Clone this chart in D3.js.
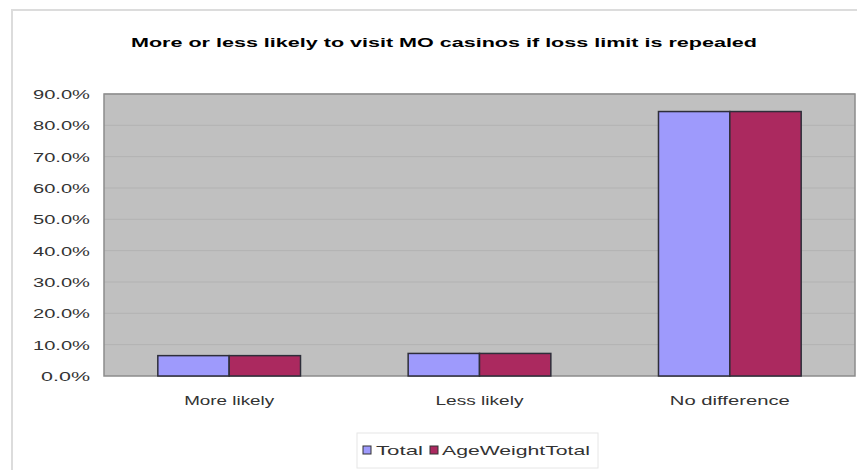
<!DOCTYPE html>
<html>
<head>
<meta charset="utf-8">
<script src="https://cdn.jsdelivr.net/npm/d3@7"></script>
<style>
body { margin: 0; background: #fff; }
text { font-family: Arial, "Liberation Sans", sans-serif; }
</style>
</head>
<body>
<svg width="857" height="470"></svg>
<script>
var categories = ["More likely", "Less likely", "No difference"];
var seriesNames = ["Total", "AgeWeightTotal"];
var total = [0.065, 0.072, 0.844];
var ageWeightTotal = [0.065, 0.072, 0.844];
var yTicks = [0, 0.1, 0.2, 0.3, 0.4, 0.5, 0.6, 0.7, 0.8, 0.9];
var colors = ["#9e9afc", "#ab295f"];

function init() {
    var svg = d3.select('svg');
    var left = 104, right = 855, top = 94, bottom = 376;

    // chart frame
    svg.append('rect')
        .attr('x', 12).attr('y', 10).attr('width', 900).attr('height', 500)
        .attr('fill', 'none').attr('stroke', '#dcdcdc').attr('stroke-width', 2);

    svg.append('text')
        .attr('x', 131).attr('y', 47)
        .attr('textLength', 626).attr('lengthAdjust', 'spacingAndGlyphs')
        .attr('font-size', 13).attr('font-weight', 'bold').attr('fill', '#000')
        .text('More or less likely to visit MO casinos if loss limit is repealed');

    var y = d3.scaleLinear().domain([0, 0.9]).range([bottom, top]);
    var x = d3.scaleBand().domain(categories).range([left, right])
        .paddingInner(0.43).paddingOuter(0.215);
    var xs = d3.scaleBand().domain(seriesNames).range([0, x.bandwidth()]);

    svg.append('rect')
        .attr('x', left).attr('y', top).attr('width', right - left).attr('height', bottom - top)
        .attr('fill', '#c0c0c0');

    svg.selectAll('.grid').data(yTicks.slice(1)).enter().append('line')
        .attr('class', 'grid')
        .attr('x1', left).attr('x2', right)
        .attr('y1', function (d) { return y(d); }).attr('y2', function (d) { return y(d); })
        .attr('stroke', '#b2b2b2').attr('stroke-width', 1);

    svg.append('rect')
        .attr('x', left).attr('y', top).attr('width', right - left).attr('height', bottom - top)
        .attr('fill', 'none').attr('stroke', '#8c8c8c').attr('stroke-width', 1.5);

    svg.selectAll('.ytick').data(yTicks).enter().append('text')
        .attr('class', 'ytick')
        .attr('x', 90).attr('y', function (d) { return y(d) + 5; })
        .attr('text-anchor', 'end')
        .attr('textLength', function (d) { return d === 0 ? 49 : 57; })
        .attr('lengthAdjust', 'spacingAndGlyphs')
        .attr('font-size', 13).attr('fill', '#333')
        .text(function (d) { return d3.format('.1%')(d); });

    var series = [total, ageWeightTotal];
    series.forEach(function (vals, s) {
        svg.selectAll('.bar' + s).data(vals).enter().append('rect')
            .attr('class', 'bar' + s)
            .attr('x', function (d, i) { return x(categories[i]) + xs(seriesNames[s]); })
            .attr('y', function (d) { return y(d); })
            .attr('width', xs.bandwidth())
            .attr('height', function (d) { return bottom - y(d); })
            .attr('fill', colors[s])
            .attr('stroke', '#2e2e3a').attr('stroke-width', 1.5);
    });

    var labelW = [90, 88, 120];
    svg.selectAll('.xlab').data(categories).enter().append('text')
        .attr('class', 'xlab')
        .attr('x', function (d) { return x(d) + x.bandwidth() / 2; })
        .attr('y', 405)
        .attr('text-anchor', 'middle')
        .attr('textLength', function (d, i) { return labelW[i]; })
        .attr('lengthAdjust', 'spacingAndGlyphs')
        .attr('font-size', 13).attr('fill', '#333')
        .text(function (d) { return d; });

    // legend
    svg.append('rect')
        .attr('x', 357).attr('y', 433).attr('width', 241).attr('height', 35)
        .attr('fill', '#fff').attr('stroke', '#e6e6e6').attr('stroke-width', 1);
    var legX = [363, 430], legTextX = [376, 442], legTextW = [47, 148];
    seriesNames.forEach(function (name, s) {
        svg.append('rect')
            .attr('x', legX[s]).attr('y', 446).attr('width', 8).attr('height', 8)
            .attr('fill', colors[s]).attr('stroke', '#333').attr('stroke-width', 1);
        svg.append('text')
            .attr('x', legTextX[s]).attr('y', 455)
            .attr('textLength', legTextW[s]).attr('lengthAdjust', 'spacingAndGlyphs')
            .attr('font-size', 13).attr('fill', '#333')
            .text(name);
    });
}
init();
</script>
</body>
</html>
